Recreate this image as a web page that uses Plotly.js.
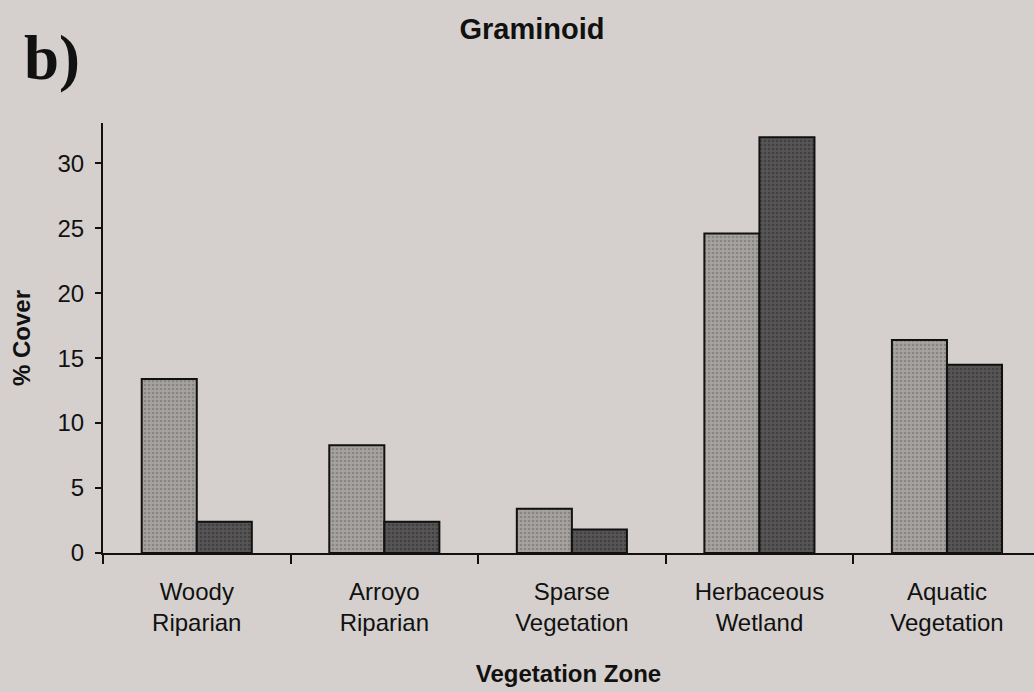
<!DOCTYPE html>
<html>
<head>
<meta charset="utf-8">
<script src="https://cdn.plot.ly/plotly-3.0.1.min.js"></script>
<style>
html,body{margin:0;padding:0;background:#d5d0cd;}
#chart{width:1034px;height:692px;}
</style>
</head>
<body>
<div id="chart"></div>
<script>
var categories = ["Woody<br>Riparian", "Arroyo<br>Riparian", "Sparse<br>Vegetation", "Herbaceous<br>Wetland", "Aquatic<br>Vegetation"];
var seriesLight = [13.4, 8.3, 3.4, 24.6, 16.4];
var seriesDark = [2.4, 2.4, 1.8, 32.0, 14.5];
var yTicks = [0, 5, 10, 15, 20, 25, 30];

var font = "Liberation Sans, Arial, sans-serif";

var traces = [
  {
    type: "bar", name: "Series 1", x: categories, y: seriesLight,
    marker: {
      color: "#9a9694",
      line: {color: "#111111", width: 2},
      pattern: {shape: ".", bgcolor: "#a6a2a0", fgcolor: "#6a6766", size: 4, solidity: 0.35, fillmode: "overlay"}
    },
    hoverinfo: "y"
  },
  {
    type: "bar", name: "Series 2", x: categories, y: seriesDark,
    marker: {
      color: "#4c4a4a",
      line: {color: "#111111", width: 2},
      pattern: {shape: ".", bgcolor: "#575555", fgcolor: "#2c2b2b", size: 4, solidity: 0.35, fillmode: "overlay"}
    },
    hoverinfo: "y"
  }
];

var plotW = 1034 - 103, plotH = 692 - 123 - 139;

var layout = {
  width: 1034, height: 692,
  paper_bgcolor: "#d5d0cd",
  plot_bgcolor: "#d5d0cd",
  showlegend: false,
  barmode: "group",
  bargap: 0.413,
  bargroupgap: 0,
  margin: {l: 103, r: 0, t: 123, b: 139, pad: 0},
  font: {family: font, color: "#111111", size: 24},
  title: {
    text: "<b>Graminoid</b>",
    font: {family: font, size: 29, color: "#111111"},
    xref: "container", yref: "container",
    x: 532 / 1034, xanchor: "center",
    y: 1 - 29 / 692, yanchor: "middle"
  },
  xaxis: {
    type: "category",
    range: [-0.5, 4.464],
    showline: true, linecolor: "#111111", linewidth: 2,
    ticks: "outside", tickson: "boundaries", ticklen: 9, tickwidth: 2, tickcolor: "#111111",
    showgrid: false, zeroline: false,
    tickfont: {family: font, size: 24, color: "#111111"},
    ticklabelstandoff: 16,
    title: {text: "<b>Vegetation Zone</b>", font: {family: font, size: 24, color: "#111111"}, standoff: 30},
    fixedrange: true
  },
  yaxis: {
    range: [0, 33.1],
    tickmode: "array", tickvals: yTicks, ticktext: yTicks.map(String),
    showline: true, linecolor: "#111111", linewidth: 2,
    ticks: "outside", ticklen: 6, tickwidth: 2, tickcolor: "#111111",
    showgrid: false, zeroline: false,
    tickfont: {family: font, size: 24, color: "#111111"},
    ticklabelstandoff: 6,
    title: {text: "<b>% Cover</b>", font: {family: font, size: 24, color: "#111111"}, standoff: 20},
    fixedrange: true
  },
  annotations: [
    {
      text: "<b>b)</b>",
      xref: "paper", yref: "paper",
      x: (22 - 103) / plotW, xanchor: "left",
      y: (692 - 139 - 95) / plotH, yanchor: "bottom",
      showarrow: false,
      font: {family: "Liberation Serif, Times New Roman, serif", size: 63, color: "#111111"}
    }
  ]
};

Plotly.newPlot("chart", traces, layout, {displayModeBar: false, staticPlot: true});
</script>
</body>
</html>
